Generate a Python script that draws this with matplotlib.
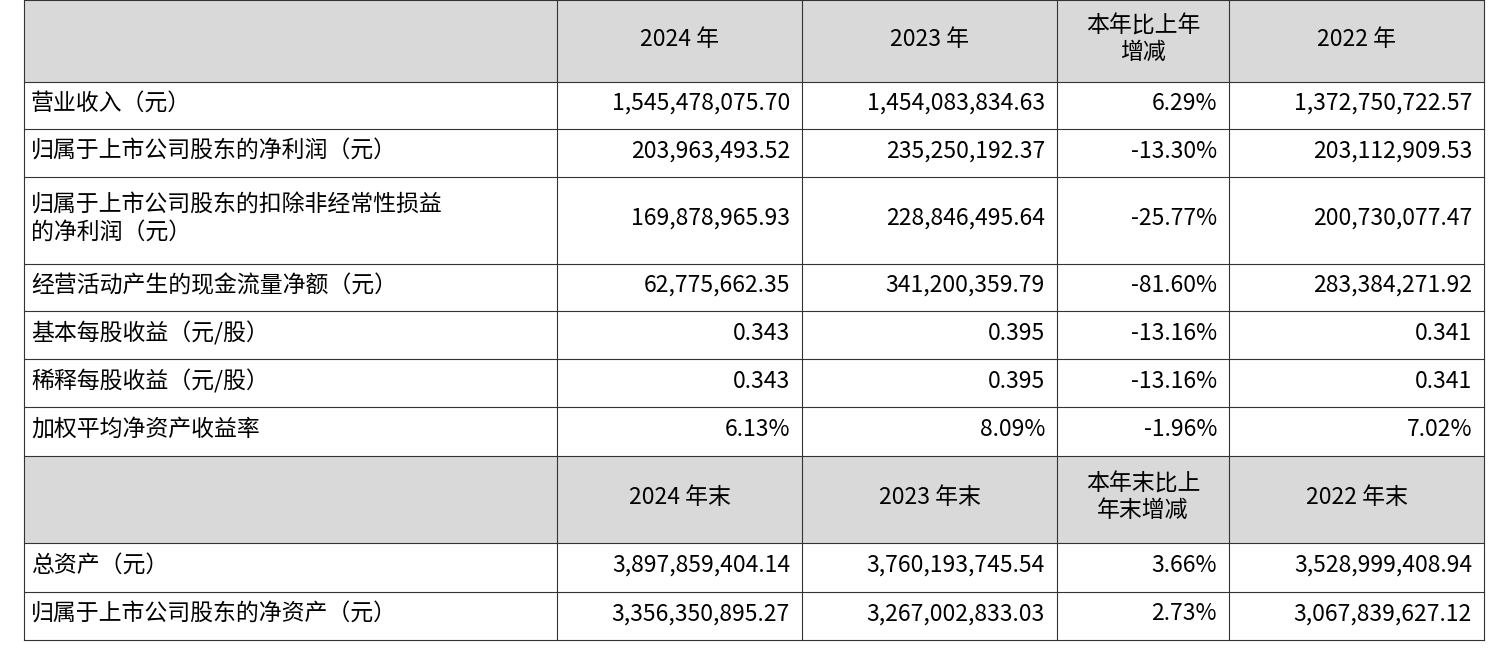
import matplotlib
matplotlib.use("Agg")
import matplotlib.pyplot as plt
from matplotlib.patches import Rectangle

plt.rcParams['font.family'] = ['Noto Sans CJK SC', 'DejaVu Sans']

header1 = ["", "2024 年", "2023 年", "本年比上年\n增减", "2022 年"]
rows1 = [
    ["营业收入（元）", "1,545,478,075.70", "1,454,083,834.63", "6.29%", "1,372,750,722.57"],
    ["归属于上市公司股东的净利润（元）", "203,963,493.52", "235,250,192.37", "-13.30%", "203,112,909.53"],
    ["归属于上市公司股东的扣除非经常性损益\n的净利润（元）", "169,878,965.93", "228,846,495.64", "-25.77%", "200,730,077.47"],
    ["经营活动产生的现金流量净额（元）", "62,775,662.35", "341,200,359.79", "-81.60%", "283,384,271.92"],
    ["基本每股收益（元/股）", "0.343", "0.395", "-13.16%", "0.341"],
    ["稀释每股收益（元/股）", "0.343", "0.395", "-13.16%", "0.341"],
    ["加权平均净资产收益率", "6.13%", "8.09%", "-1.96%", "7.02%"],
]
header2 = ["", "2024 年末", "2023 年末", "本年末比上\n年末增减", "2022 年末"]
rows2 = [
    ["总资产（元）", "3,897,859,404.14", "3,760,193,745.54", "3.66%", "3,528,999,408.94"],
    ["归属于上市公司股东的净资产（元）", "3,356,350,895.27", "3,267,002,833.03", "2.73%", "3,067,839,627.12"],
]

col_x = [24, 557, 802, 1057, 1229, 1484]
row_h = [82, 47, 48, 87, 47, 48, 48, 49, 87, 49, 48]
lines = [header1] + rows1 + [header2] + rows2
is_header = [True] + [False] * len(rows1) + [True] + [False] * len(rows2)

W, H = 1496, 650
fig = plt.figure(figsize=(W / 100, H / 100), dpi=100)
ax = fig.add_axes([0, 0, 1, 1])
ax.set_xlim(0, W)
ax.set_ylim(H, 0)
ax.axis('off')

fs = 16.5
y = 0
for cells, hdr, h in zip(lines, is_header, row_h):
    if hdr:
        ax.add_patch(Rectangle((col_x[0], y), col_x[-1] - col_x[0], h,
                               facecolor='#d9d9d9', edgecolor='none'))
    for i, txt in enumerate(cells):
        cy = y + h / 2 - 2
        if hdr:
            ax.text((col_x[i] + col_x[i + 1]) / 2, cy, txt, ha='center', va='center',
                    fontsize=fs, linespacing=1.2)
        elif i == 0:
            ax.text(col_x[0] + 7, cy, txt, ha='left', va='center', fontsize=fs,
                    linespacing=1.2)
        else:
            ax.text(col_x[i + 1] - 12, cy, txt, ha='right', va='center', fontsize=fs)
    y += h

# grid lines
total = sum(row_h)
for x in col_x:
    ax.plot([x, x], [0, total], color='#333333', lw=0.8)
y = 0
for h in [0] + row_h:
    y += h
    ax.plot([col_x[0], col_x[-1]], [y, y], color='#333333', lw=0.8)

fig.savefig("out.png", dpi=100)
